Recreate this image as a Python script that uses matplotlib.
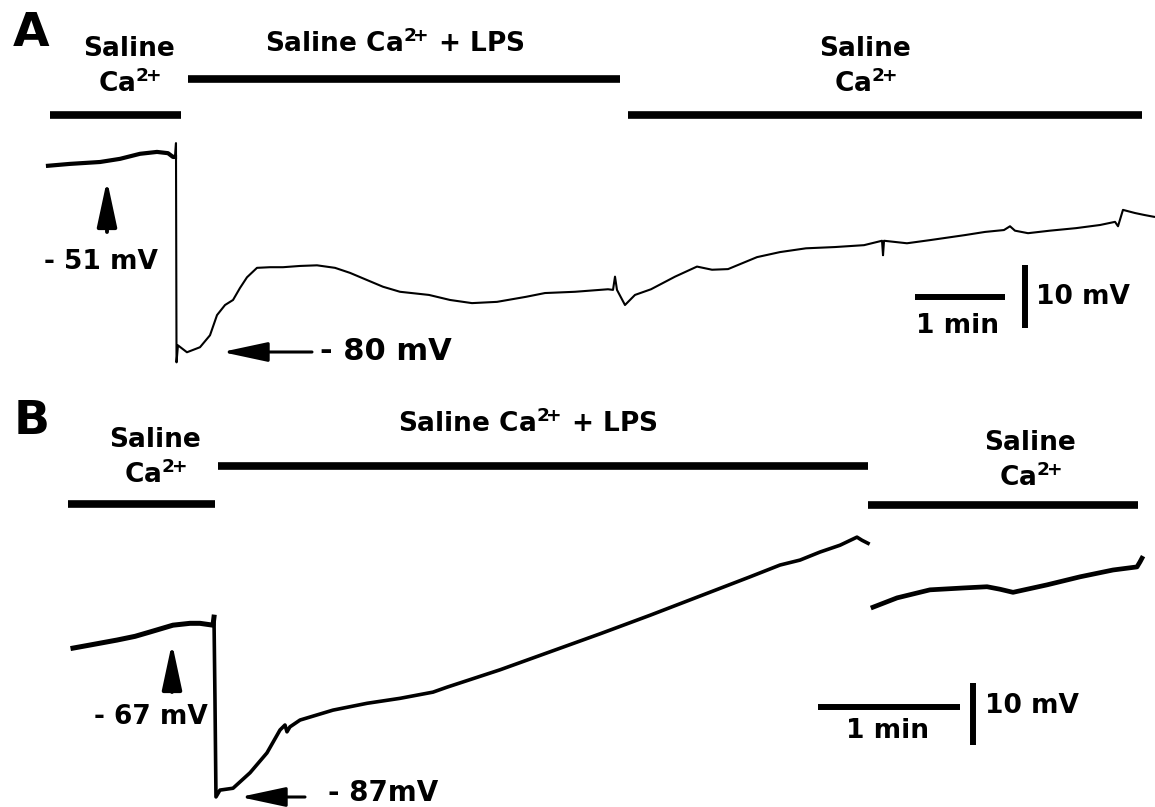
import matplotlib.pyplot as plt
from matplotlib.patches import FancyArrowPatch

# ---- data: membrane potential traces (time in min, voltage in mV) ----
tA = [0, 0.244, 0.578, 0.8, 1.022, 1.211, 1.333, 1.389, 1.411, 1.422, 1.428, 1.444,
      1.544, 1.689, 1.8, 1.878, 1.967, 2.056, 2.133, 2.211, 2.322, 2.467, 2.611, 2.8,
      2.989, 3.189, 3.356, 3.522, 3.722, 3.911, 4.233, 4.467, 4.711, 4.989, 5.311,
      5.522, 5.856, 6.222, 6.278, 6.3, 6.322, 6.411, 6.522, 6.7, 6.967, 7.211, 7.378,
      7.556, 7.878, 8.133, 8.422, 8.744, 9.067, 9.267, 9.278, 9.289, 9.544, 9.8,
      10.189, 10.411, 10.622, 10.689, 10.744, 10.889, 11.133, 11.422, 11.689, 11.856,
      11.889, 11.944, 12.078, 12.178, 12.289]
vA = [-51.6, -51.3, -51.0, -50.5, -49.7, -49.4, -49.6, -50.2, -50.2, -48.0, -82.8, -80.1,
      -81.2, -80.4, -78.5, -75.3, -73.7, -72.9, -71.0, -69.3, -67.8, -67.7, -67.7, -67.5,
      -67.4, -67.8, -68.6, -69.6, -70.8, -71.6, -72.1, -72.9, -73.4, -73.2, -72.4,
      -71.8, -71.6, -71.2, -71.3, -69.2, -71.3, -73.7, -72.1, -71.2, -69.2, -67.6, -68.1,
      -68.0, -66.1, -65.3, -64.7, -64.5, -64.2, -63.5, -65.8, -63.5, -63.9, -63.4,
      -62.6, -62.1, -61.8, -61.2, -61.9, -62.3, -61.9, -61.5, -61.0, -60.5,
      -61.2, -58.6, -59.1, -59.4, -59.7]

tB1 = [0.021, 0.141, 0.331, 0.458, 0.563, 0.725, 0.845, 0.915, 1.007, 1.014, 1.021, 1.028,
       1.056, 1.148, 1.268, 1.387, 1.479, 1.514, 1.528, 1.549, 1.62, 1.852, 2.092, 2.324,
       2.556, 2.655, 3.028, 3.38, 3.732, 4.085, 4.437, 4.789, 5.0, 5.141, 5.282, 5.423,
       5.542, 5.577, 5.62]
vB1 = [-69.6, -69.1, -68.3, -67.7, -67.0, -65.9, -65.6, -65.6, -65.9, -64.6, -78.0, -93.6,
       -92.5, -92.2, -89.7, -86.5, -82.8, -82.0, -83.1, -82.3, -81.2, -79.6, -78.5, -77.7,
       -76.7, -75.9, -73.1, -70.2, -67.3, -64.3, -61.2, -58.1, -56.2, -55.4, -54.1, -53.0,
       -51.7, -52.2, -52.7]
tB2 = [5.655, 5.824, 6.056, 6.289, 6.458, 6.549, 6.641, 6.88, 7.113, 7.345, 7.514, 7.535, 7.549]
vB2 = [-63.0, -61.5, -60.2, -59.9, -59.7, -60.1, -60.6, -59.4, -58.1, -57.0, -56.5, -55.7, -55.1]

# perfusion periods (min)
A_start = [0.02, 1.556, 6.444]
A_end = [1.48, 6.356, 12.156]
B_start = [-0.014, 1.042, 5.62]
B_end = [1.021, 5.62, 7.521]
ca = 'Ca$^{\\mathbf{2}\\!\\mathbf{+}}$'
period_names = ['Saline\n' + ca, 'Saline ' + ca + ' + LPS', 'Saline\n' + ca]

W, H = 1155, 807
plt.rcParams['font.family'] = ['DejaVu Sans']
plt.rcParams['mathtext.fontset'] = 'dejavusans'
fig = plt.figure(figsize=(W / 100, H / 100), dpi=100)


def fp(x, y):
    return (x / W, 1 - y / H)


def make_axes(top, bottom, x0, y0, v0, px_min, px_mv):
    ax = fig.add_axes([0, 1 - bottom / H, 1, (bottom - top) / H])
    ax.set_xlim(-x0 / px_min, (W - x0) / px_min)
    ax.set_ylim(v0 - (bottom - y0) / px_mv, v0 + (y0 - top) / px_mv)
    ax.axis('off')
    return ax


axA = make_axes(0, 400, 48, 162, -51, 90, 6.3)
axB = make_axes(400, 807, 70, 632, -67, 142, 6.2)

# traces (baseline stretches are noisier, so drawn thicker)
axA.plot(tA[:9], vA[:9], color='black', lw=3.0, solid_joinstyle='round')
axA.plot(tA[8:], vA[8:], color='black', lw=1.5)
axB.plot(tB1[:10], vB1[:10], color='black', lw=3.6)
axB.plot(tB1[9:], vB1[9:], color='black', lw=2.6)
axB.plot(tB2, vB2, color='black', lw=3.4)

# perfusion bars
A_levels = [-43.5, -37.8, -43.5]
B_levels = [-46.3, -40.2, -46.5]
for s, e, lv in zip(A_start, A_end, A_levels):
    axA.plot([s, e], [lv, lv], color='black', lw=5.5, solid_capstyle='butt')
for s, e, lv in zip(B_start, B_end, B_levels):
    axB.plot([s, e], [lv, lv], color='black', lw=5.5, solid_capstyle='butt')

# scale bars: 1 min and 10 mV
axA.plot([9.633, 9.633 + 1], [-72.4, -72.4], color='black', lw=4.3, solid_capstyle='butt')
axA.plot([10.856, 10.856], [-77.35, -77.35 + 10], color='black', lw=4.3, solid_capstyle='butt')
axB.plot([5.268, 5.268 + 1], [-79.1, -79.1], color='black', lw=4.3, solid_capstyle='butt')
axB.plot([6.359, 6.359], [-85.2, -85.2 + 10], color='black', lw=4.3, solid_capstyle='butt')

txt = dict(fontweight='bold', color='black', va='center')

# panel letters
fig.text(*fp(31, 33), 'A', fontsize=34, ha='center', **txt)
fig.text(*fp(32, 421), 'B', fontsize=34, ha='center', **txt)

# period labels
fig.text(*fp(129, 67), period_names[0], fontsize=19, ha='center', linespacing=1.3, **txt)
fig.text(*fp(395, 44), period_names[1], fontsize=19, ha='center', **txt)
fig.text(*fp(865, 67), period_names[2], fontsize=19, ha='center', linespacing=1.3, **txt)
fig.text(*fp(155, 458), period_names[0], fontsize=19, ha='center', linespacing=1.3, **txt)
fig.text(*fp(528, 424), period_names[1], fontsize=19, ha='center', **txt)
fig.text(*fp(1030, 461), period_names[2], fontsize=19, ha='center', linespacing=1.3, **txt)

# voltage labels
fig.text(*fp(44, 262), '- 51 mV', fontsize=19, ha='left', **txt)
fig.text(*fp(320, 352), '- 80 mV', fontsize=22, ha='left', **txt)
fig.text(*fp(94, 717), '- 67 mV', fontsize=19, ha='left', **txt)
fig.text(*fp(328, 793), '- 87mV', fontsize=20, ha='left', **txt)

# scale bar labels
fig.text(*fp(958, 326), '1 min', fontsize=19, ha='center', **txt)
fig.text(*fp(1036, 297), '10 mV', fontsize=19, ha='left', **txt)
fig.text(*fp(888, 731), '1 min', fontsize=19, ha='center', **txt)
fig.text(*fp(985, 706), '10 mV', fontsize=19, ha='left', **txt)

# arrows
arrows = [((107, 232), (107, 180), 2.8), ((312, 352), (222, 352), 2.2),
          ((172, 692), (172, 643), 2.8), ((305, 797), (240, 797), 2.2)]
for tail, tip, lw in arrows:
    fig.patches.append(FancyArrowPatch(fp(*tail), fp(*tip), transform=fig.transFigure,
                                       arrowstyle='-|>,head_length=28,head_width=6',
                                       mutation_scale=1, lw=lw, color='black',
                                       shrinkA=0, shrinkB=0))

fig.savefig('out.png', dpi=100, facecolor='white')
